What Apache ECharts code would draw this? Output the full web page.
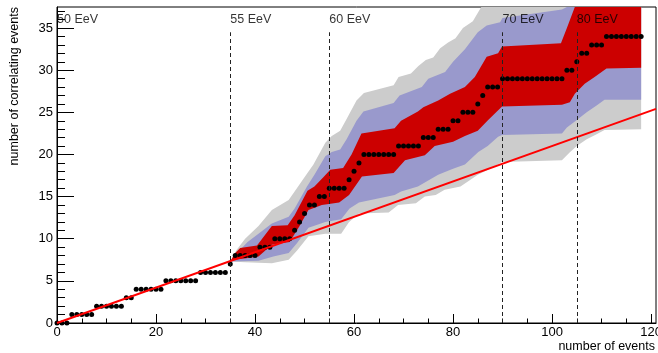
<!DOCTYPE html>
<html>
<head>
<meta charset="utf-8">
<title>correlating events</title>
<script src="https://cdn.jsdelivr.net/npm/echarts@6.0.0/dist/echarts.min.js"></script>
<style>
  html, body { margin: 0; padding: 0; background: #fff; }
  #main { width: 658px; height: 353px; }
</style>
</head>
<body>
<div id="main"></div>
<script>
// cumulative number of correlating events, one value per event count n = 0..118
var correlating = [
    0,0,0, 1,1,1,1,1, 2,2,2,2,2,2, 3,3, 4,4,4,4,4,4, 5,5,5,5,5,5,5, 6,6,6,6,6,6,
    7, 8,8,8,8,8, 9,9,9, 10,10,10,10, 11, 12, 13, 14,14, 15,15, 16,16,16,16,
    17, 18, 19, 20,20,20,20,20,20,20, 21,21,21,21,21, 22,22,22, 23,23,23, 24,24,
    25,25,25, 26, 27, 28,28,28, 29,29,29,29,29,29,29,29,29,29,29,29,29,
    30,30, 31, 32,32, 33,33,33, 34,34,34,34,34,34,34,34
];

// band edges [n, value]
var greyHi = [[35,7.3],[36.3,8.7],[38,10.0],[40.7,11.5],[43.4,13.4],[46.8,14.6],[48,15.6],[50.1,17.4],[51.8,18.8],[54.2,21.4],[55.5,22.2],[57.2,22.8],[58.5,24.2],[60.5,26.4],[62,27.3],[68,28.2],[69,29.2],[71.5,29.6],[73,30.5],[74.5,31.2],[76,31.5],[77.4,32.6],[79,33.3],[80.5,33.8],[82,35.0],[84,35.8],[85.7,37.5],[118,37.5]];
var blueHi = [[35,7.3],[36.7,8.5],[38.5,9.6],[40.7,10.6],[43.4,11.8],[46.8,12.6],[48,13.6],[50.5,16.2],[52,17.6],[54.2,19.8],[55.5,20.3],[57.2,20.6],[58.5,21.8],[60.5,24.0],[61.9,25.1],[68,26.1],[69.2,27.0],[73.7,28.0],[75,29.0],[78.4,29.8],[80,31.0],[82.4,32.5],[85,34.5],[86.8,35.3],[89.5,35.7],[90,36.2],[102,37.2],[103,37.5],[118,37.5]];
var redHi = [[35,7.3],[36,8.3],[37,8.9],[40.4,9.2],[43.4,11.5],[46.6,11.6],[48,12.8],[50.6,15.7],[52,16.2],[53.8,17.3],[55.2,18.2],[57.8,18.4],[59.5,20.0],[61.5,22.5],[68.2,23.1],[69.5,24.0],[72.9,25.1],[74,25.6],[77,26.4],[79.4,27.2],[82.4,28.0],[84.4,29.2],[86.8,31.6],[89.1,32.0],[89.9,32.8],[101.8,33.2],[103,35.0],[104.6,37.5],[118,37.5]];
var redLo = [[35,7.3],[36,7.5],[40.7,7.9],[43.4,9.3],[47,9.6],[49,11.5],[50.8,13.4],[53.5,14.0],[57,14.3],[59,15.2],[61.6,17.4],[68,17.8],[70.3,19.3],[74.3,19.9],[76.3,21.0],[80,21.5],[82.4,22.2],[85,22.8],[87.1,24.1],[88.5,24.9],[89.9,25.7],[102,25.9],[103.6,26.2],[104.6,27.2],[106.6,28.4],[108.6,29.2],[111,30.2],[118,30.3]];
var blueLo = [[35,7.3],[40.7,7.4],[43.7,7.9],[46.8,8.3],[48.5,9.5],[50.8,11.3],[54.2,12.0],[57.4,12.3],[59.1,13.6],[61,14.3],[68.2,15.2],[69.5,15.6],[72.9,16.2],[77,17.6],[80,18.3],[82.4,18.8],[85.1,20.3],[87,21.0],[89.1,22.1],[89.9,22.3],[102,22.5],[103,23.2],[105,24.1],[107,25.0],[109,25.8],[110.6,26.5],[118,26.5]];
var greyLo = [[35,7.3],[38,7.2],[43.4,7.1],[46.8,7.5],[48.5,8.6],[50.8,10.3],[54.2,10.6],[57.4,10.6],[59,12.0],[61,13.0],[67,13.1],[68.9,14.0],[72.5,14.2],[74.3,15.0],[76.5,15.2],[78.3,15.8],[81.5,16.2],[83,16.8],[85,17.6],[87.8,18.4],[89.9,19.1],[102,19.3],[103.5,20.2],[105,21.0],[107,21.8],[109,22.4],[110.6,22.9],[118,23.0]];

// energy thresholds and their labels
var thresholds = [0, 35, 55, 90, 105];
var energyLabels = ['50 EeV', '55 EeV', '60 EeV', '70 EeV', '80 EeV'];

// isotropic expectation
var isoFraction = 0.21;

// ticks
var xMajor = [0, 20, 40, 60, 80, 100, 120];
var xMinor = [5,10,15,25,30,35,45,50,55,65,70,75,85,90,95,105,110,115];
var yMajor = [0, 5, 10, 15, 20, 25, 30, 35];
var yMinor = [1,2,3,4,6,7,8,9,11,12,13,14,16,17,18,19,21,22,23,24,26,27,28,29,31,32,33,34,36,37];

var xMax = 121, yMax = 37.5;
var font = '"Liberation Sans", Arial, Helvetica, sans-serif';

function band(name, hi, lo, color) {
    var pts = hi.concat(lo.slice().reverse());
    return {
        name: name,
        type: 'custom',
        silent: true,
        clip: true,
        data: pts,
        renderItem: function (params, api) {
            if (params.dataIndex !== 0) return;
            return {
                type: 'polygon',
                shape: { points: pts.map(function (p) { return api.coord(p); }) },
                style: { fill: color }
            };
        }
    };
}

var dots = correlating.map(function (v, i) { return [i, v]; });

var option = {
    animation: false,
    grid: {
        left: 57, right: 2, top: 7, bottom: 30,
        show: true, borderColor: '#000', borderWidth: 1,
        containLabel: false, outerBoundsMode: 'none'
    },
    xAxis: [{
        type: 'value', min: 0, max: xMax,
        axisLine: { onZero: false, lineStyle: { color: '#000' } },
        axisTick: { inside: true, length: 9, customValues: xMajor, lineStyle: { color: '#000' } },
        axisLabel: { customValues: xMajor, color: '#000', fontSize: 13, fontFamily: font, margin: 3 },
        splitLine: { show: false },
        name: 'number of events',
        nameLocation: 'end',
        nameGap: -1,
        nameMoveOverlap: false,
        nameTextStyle: { color: '#000', fontSize: 12.5, fontFamily: font, align: 'right', verticalAlign: 'top', padding: [17, 0, 0, 0] }
    }, {
        type: 'value', min: 0, max: xMax, position: 'bottom', offset: 0,
        axisLine: { show: false, onZero: false },
        axisTick: { inside: true, length: 4.5, customValues: xMinor, lineStyle: { color: '#000' } },
        axisLabel: { show: false },
        splitLine: { show: false }
    }],
    yAxis: [{
        type: 'value', min: 0, max: yMax,
        axisLine: { show: true, onZero: false, lineStyle: { color: '#000' } },
        axisTick: { show: true, inside: true, length: 17, customValues: yMajor, lineStyle: { color: '#000' } },
        axisLabel: { customValues: yMajor, color: '#000', fontSize: 13, fontFamily: font, margin: 4 },
        splitLine: { show: false },
        name: 'number of correlating events',
        nameLocation: 'end',
        nameRotate: 90,
        nameGap: 0,
        nameMoveOverlap: false,
        nameTextStyle: { color: '#000', fontSize: 12.5, fontFamily: font, align: 'right', verticalAlign: 'bottom', padding: [0, 0, 36, 0] }
    }, {
        type: 'value', min: 0, max: yMax, position: 'left', offset: 0,
        axisLine: { show: false, onZero: false },
        axisTick: { show: true, inside: true, length: 8, customValues: yMinor, lineStyle: { color: '#000' } },
        axisLabel: { show: false },
        splitLine: { show: false }
    }],
    series: [
        band('3 sigma', greyHi, greyLo, '#cccccc'),
        band('2 sigma', blueHi, blueLo, '#9999cc'),
        band('1 sigma', redHi, redLo, '#cc0000'),
        {
            name: 'thresholds',
            type: 'scatter',
            symbolSize: 0,
            silent: true,
            data: thresholds.map(function (t, i) { return { value: [t, 36.05], name: energyLabels[i] }; }),
            label: {
                show: true, position: 'right', distance: 0,
                formatter: '{b}', color: '#000', fontSize: 12.5, fontFamily: font
            },
            markLine: {
                silent: true,
                symbol: 'none',
                label: { show: false },
                lineStyle: { color: '#222', width: 1, type: [4, 3] },
                data: thresholds.slice(1).map(function (t) {
                    return [{ coord: [t, 0] }, { coord: [t, 34.5] }];
                })
            }
        },
        {
            name: 'data',
            type: 'scatter',
            symbol: 'circle',
            symbolSize: 5,
            itemStyle: { color: '#000', opacity: 1 },
            data: dots
        },
        {
            name: 'isotropic',
            type: 'line',
            symbol: 'none',
            lineStyle: { color: '#ff0000', width: 2 },
            data: [[0, 0], [xMax, xMax * isoFraction]]
        }
    ]
};

var myChart = echarts.init(document.getElementById('main'));
myChart.setOption(option);
</script>
</body>
</html>
